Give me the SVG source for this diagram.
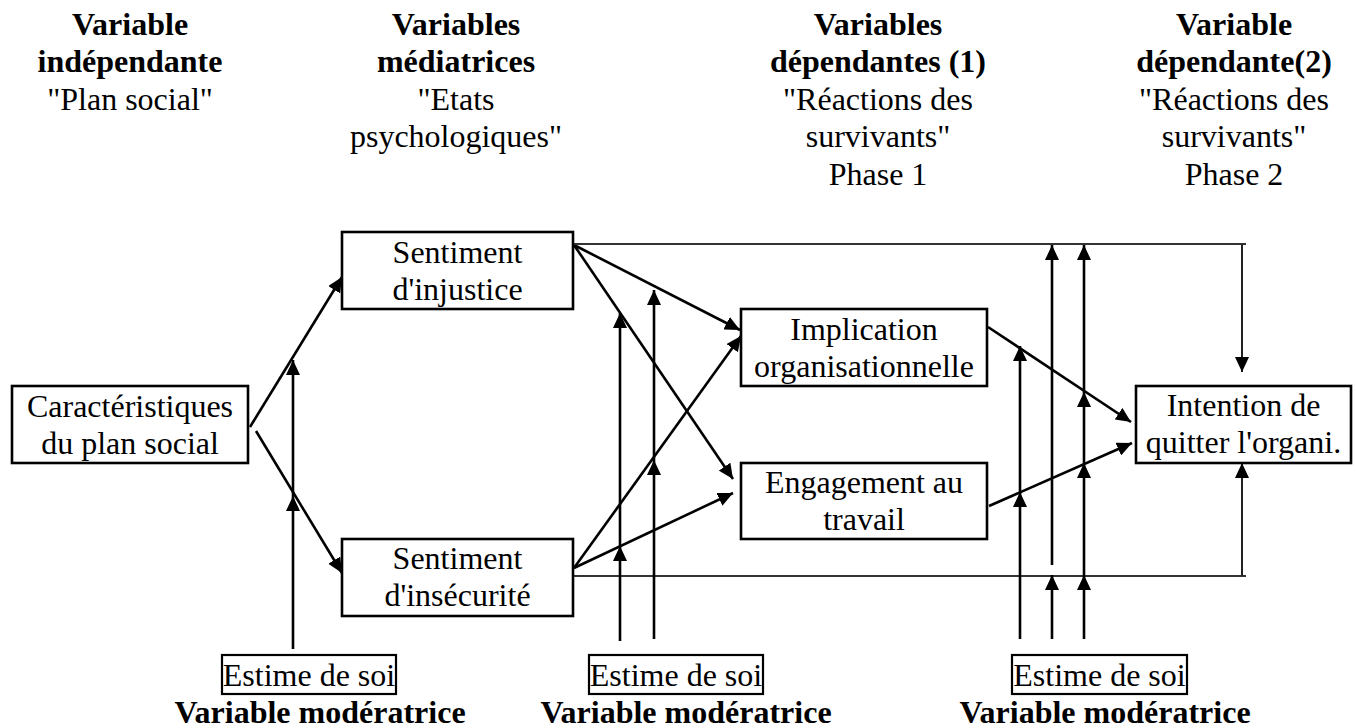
<svg xmlns="http://www.w3.org/2000/svg" width="1356" height="728" viewBox="0 0 1356 728">
<style>
text{font-family:"Liberation Serif","Times New Roman",serif;font-size:32px;fill:#000;text-anchor:middle}
.b{font-weight:bold}
.box{fill:#fff;stroke:#000;stroke-width:2.6}
.sbox{fill:#fff;stroke:#000;stroke-width:2.2}
.ar{fill:none;stroke:#000;stroke-width:2.6;marker-end:url(#ah)}
.thin{fill:none;stroke:#333;stroke-width:2}
.thinar{fill:none;stroke:#222;stroke-width:2;marker-end:url(#ah)}
</style>
<defs>
<marker id="ah" markerUnits="userSpaceOnUse" markerWidth="16" markerHeight="14" refX="15" refY="7" orient="auto">
<path d="M0,0 L15,7 L0,14 z" fill="#000"/>
</marker>
</defs>
<rect width="1356" height="728" fill="#fff"/>

<g id="headers">
<text class="b" x="130" y="35">Variable</text>
<text class="b" x="130" y="72">indépendante</text>
<text x="130" y="110">"Plan social"</text>
<text class="b" x="456" y="35">Variables</text>
<text class="b" x="456" y="72">médiatrices</text>
<text x="456" y="110">"Etats</text>
<text x="456" y="147">psychologiques"</text>
<text class="b" x="878" y="35">Variables</text>
<text class="b" x="878" y="72">dépendantes (1)</text>
<text x="878" y="110">"Réactions des</text>
<text x="878" y="147">survivants"</text>
<text x="878" y="185">Phase 1</text>
<text class="b" x="1234" y="35">Variable</text>
<text class="b" x="1234" y="72">dépendante(2)</text>
<text x="1234" y="110">"Réactions des</text>
<text x="1234" y="147">survivants"</text>
<text x="1234" y="185">Phase 2</text>
</g>

<g id="connectors">
<path class="ar" d="M250,427 L342,277"/>
<path class="ar" d="M256,431 L342,573"/>
<path class="ar" d="M293,649 L293,496"/>
<path class="ar" d="M293,496 L293,360"/>
<path class="ar" d="M574,245 L740,330"/>
<path class="ar" d="M574,245 L733,479"/>
<path class="ar" d="M574,568 L741,336"/>
<path class="ar" d="M574,568 L733,493"/>
<path class="thin" d="M573,244 L1246,244"/>
<path class="thinar" d="M1242,244 L1242,372"/>
<path class="thin" d="M573,576 L1246,576"/>
<path class="thinar" d="M1242,576 L1242,463"/>
<path class="ar" d="M620,641 L620,546"/>
<path class="ar" d="M620,546 L620,313"/>
<path class="ar" d="M654,639 L654,460"/>
<path class="ar" d="M654,460 L654,290"/>
<path class="ar" d="M988,327 L1131,422"/>
<path class="ar" d="M989,506 L1132,443"/>
<path class="ar" d="M1020,639 L1020,492"/>
<path class="ar" d="M1020,492 L1020,346"/>
<path class="ar" d="M1052,639 L1052,575"/>
<path class="ar" d="M1052,565 L1052,245"/>
<path class="ar" d="M1084,639 L1084,575"/>
<path class="ar" d="M1084,575 L1084,463"/>
<path class="ar" d="M1084,463 L1084,392"/>
<path class="ar" d="M1084,392 L1084,245"/>
</g>

<g id="caracteristiques">
<rect class="box" x="12" y="386" width="236" height="77"/>
<text x="130" y="417">Caractéristiques</text>
<text x="130" y="454">du plan social</text>
</g>
<g id="injustice">
<rect class="box" x="342" y="232" width="231" height="77"/>
<text x="457.5" y="263">Sentiment</text>
<text x="457.5" y="300">d'injustice</text>
</g>
<g id="insecurite">
<rect class="box" x="342" y="539" width="231" height="77"/>
<text x="457.5" y="569">Sentiment</text>
<text x="457.5" y="606">d'insécurité</text>
</g>
<g id="implication">
<rect class="box" x="741" y="309" width="246" height="77"/>
<text x="864" y="340">Implication</text>
<text x="864" y="377">organisationnelle</text>
</g>
<g id="engagement">
<rect class="box" x="741" y="463" width="246" height="76"/>
<text x="864" y="493">Engagement au</text>
<text x="864" y="530">travail</text>
</g>
<g id="intention">
<rect class="box" x="1136" y="386" width="215" height="77"/>
<text x="1243.5" y="416">Intention de</text>
<text x="1243.5" y="453">quitter l'organi.</text>
</g>

<g id="moderateur1">
<rect class="sbox" x="222" y="655" width="174" height="39"/>
<text x="309" y="686">Estime de soi</text>
<text class="b" x="320" y="723">Variable modératrice</text>
</g>
<g id="moderateur2">
<rect class="sbox" x="589" y="655" width="174" height="39"/>
<text x="676" y="686">Estime de soi</text>
<text class="b" x="686" y="723">Variable modératrice</text>
</g>
<g id="moderateur3">
<rect class="sbox" x="1012" y="655" width="175" height="39"/>
<text x="1099.5" y="686">Estime de soi</text>
<text class="b" x="1105" y="723">Variable modératrice</text>
</g>
</svg>
